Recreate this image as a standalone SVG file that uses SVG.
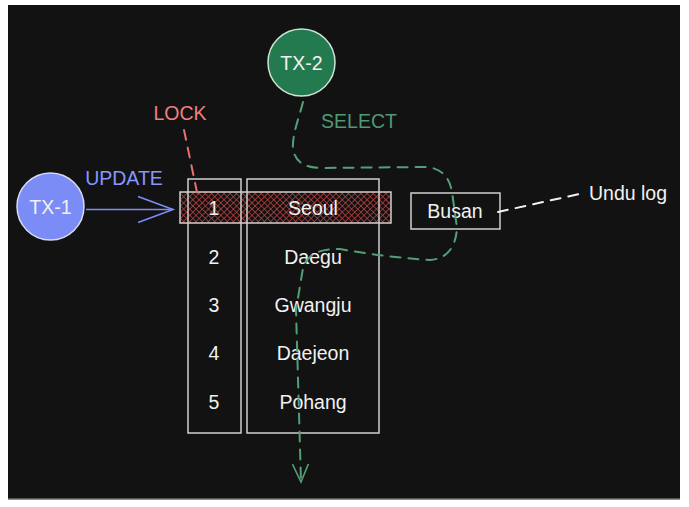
<svg xmlns="http://www.w3.org/2000/svg" width="689" height="507" viewBox="0 0 689 507">
<style>
text{font-family:"Liberation Sans","DejaVu Sans",sans-serif;font-size:19.5px;text-anchor:middle;dominant-baseline:central}
.w{fill:#f1f1f1}
.box{fill:none;stroke:#cfcfcf;stroke-width:1.5}
.dash{fill:none;stroke-width:2;stroke-dasharray:10 8;stroke-linecap:round}
</style>
<defs>
<pattern id="hatch" width="4.4" height="4.4" patternUnits="userSpaceOnUse" patternTransform="rotate(45)">
<rect width="4.4" height="4.4" fill="#141010"/>
<path d="M0 0H4.4M0 0V4.4" stroke="#c04848" stroke-width="1.4"/>
</pattern>
<marker id="ah" viewBox="0 0 20 20" refX="18" refY="10" markerWidth="20" markerHeight="20" markerUnits="userSpaceOnUse" orient="auto">
<path d="M0 2L18 10L0 18" fill="none" stroke="context-stroke" stroke-width="1.6"/>
</marker>
<marker id="ahBig" viewBox="0 0 40 30" refX="37" refY="15" markerWidth="40" markerHeight="30" markerUnits="userSpaceOnUse" orient="auto">
<path d="M2 2L37 15L2 28" fill="none" stroke="context-stroke" stroke-width="1.6"/>
</marker>
</defs>
<rect x="0" y="0" width="689" height="507" fill="#ffffff"/>
<rect x="8" y="5" width="672" height="494" fill="#121212"/>
<line x1="8" y1="499" x2="680" y2="499" stroke="#6a6a6a" stroke-width="1.5"/>

<g id="row1-highlight">
<rect x="180" y="192" width="211" height="31" fill="url(#hatch)" stroke="#cfcfcf" stroke-width="1.5"/>
</g>
<g id="id-column">
<rect class="box" x="188" y="179" width="53" height="254"/>
<text class="w" x="214" y="208">1</text>
<text class="w" x="214" y="257">2</text>
<text class="w" x="214" y="305">3</text>
<text class="w" x="214" y="353">4</text>
<text class="w" x="214" y="402">5</text>
</g>
<g id="city-column">
<rect class="box" x="247" y="179" width="132" height="254"/>
<text class="w" x="313" y="208">Seoul</text>
<text class="w" x="313" y="257">Daegu</text>
<text class="w" x="313" y="305">Gwangju</text>
<text class="w" x="313" y="353">Daejeon</text>
<text class="w" x="313" y="402">Pohang</text>
</g>
<g id="busan">
<rect class="box" x="411" y="193" width="89" height="36"/>
<text class="w" x="455" y="211">Busan</text>
</g>
<g id="tx1">
<circle cx="50.5" cy="206.5" r="33.5" fill="#7b8cf7" stroke="#d8dbf5" stroke-width="1.5"/>
<text class="w" x="50.5" y="207">TX-1</text>
</g>
<g id="tx2">
<circle cx="301.5" cy="62.5" r="33.5" fill="#237a4f" stroke="#cfe3d6" stroke-width="1.5"/>
<text class="w" x="301.5" y="63">TX-2</text>
</g>
<g id="connectors">
<line x1="86" y1="209.5" x2="173" y2="209.5" stroke="#7b8cf7" stroke-width="1.6" marker-end="url(#ahBig)"/>
<line class="dash" x1="184" y1="130" x2="198" y2="197" stroke="#e87070"/>
<path class="dash" d="M303 102 C299 118 292 135 293 148 Q295 168 322 168 L425 167 Q448 168 452 192 L457 228 Q455 258 430 260 Q385 257 340 249 Q309 248 303 268 L296 310 L301 482" stroke="#52a077" marker-end="url(#ah)"/>
<line class="dash" x1="498" y1="212" x2="584" y2="193" stroke="#f1f1f1"/>
</g>
<g id="labels">
<text x="124" y="178" fill="#8797ff">UPDATE</text>
<text x="180" y="113" fill="#f27f7f">LOCK</text>
<text x="359" y="121" fill="#4f9a72">SELECT</text>
<text class="w" x="628" y="193">Undu log</text>
</g>
</svg>
